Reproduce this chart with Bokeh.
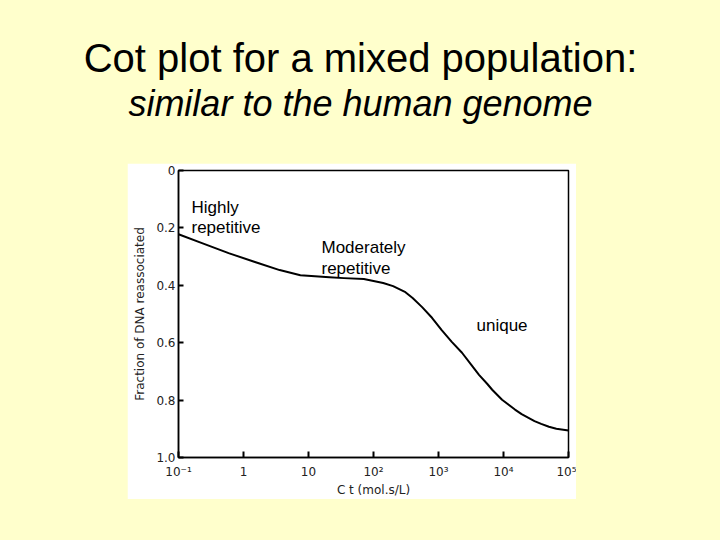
from bokeh.plotting import figure
from bokeh.models import Range1d, FixedTicker, Label, Spacer
from bokeh.layouts import column, row
from bokeh.core.properties import value
from bokeh.embed import file_html
from bokeh.resources import INLINE

# Data (Cot curve)
ct = [0.1, 0.23, 0.59, 1.5, 3.6, 7.5, 21, 35, 71, 141, 200, 310, 400, 560, 800, 1120,
      1600, 2300, 3200, 4200, 5600, 6700, 9500, 15000, 19000, 30000, 38000, 50000, 65000, 100000]
frac = [0.222, 0.253, 0.288, 0.319, 0.347, 0.365, 0.372, 0.375, 0.378, 0.392, 0.403, 0.424, 0.444,
        0.476, 0.514, 0.556, 0.597, 0.635, 0.677, 0.712, 0.743, 0.764, 0.799, 0.833, 0.849, 0.873,
        0.883, 0.893, 0.900, 0.906]

x_ticks = [0.1, 1, 10, 100, 1000, 10000, 100000]
x_tick_labels = ["10⁻¹", "1", "10", "10²", "10³", "10⁴", "10⁵"]
y_ticks = [0, 0.2, 0.4, 0.6, 0.8, 1.0]
y_tick_labels = ["0", "0.2", "0.4", "0.6", "0.8", "1.0"]

title_text = "Cot plot for a mixed population:"
subtitle_text = "similar to the human genome"
region_labels = [("Highly", 64, 44), ("repetitive", 64, 64),
                 ("Moderately", 194, 84), ("repetitive", 194, 105),
                 ("unique", 349, 162)]

BG = "#FFFFCC"

# ---- title panel ----
t = figure(width=720, height=163, x_range=Range1d(0, 720), y_range=Range1d(163, 0),
           output_backend="svg", toolbar_location=None,
           x_axis_location=None, y_axis_location=None, min_border=0)
t.border_fill_color = BG
t.background_fill_color = BG
t.outline_line_color = None
t.grid.visible = False
t.text(x=[360], y=[57], text=[title_text], text_align="center", text_baseline="alphabetic",
       text_font=value("Liberation Sans"), text_font_size="40px", text_color="black")
t.text(x=[360], y=[103], text=[subtitle_text], text_align="center", text_baseline="alphabetic",
       text_font=value("Liberation Sans"), text_font_size="36px", text_font_style="italic",
       text_color="black")

# ---- chart ----
p = figure(width=449, height=335, x_axis_type="log",
           x_range=Range1d(0.1, 100000), y_range=Range1d(1.0, 0.0),
           output_backend="svg", toolbar_location=None,
           min_border_left=51, min_border_right=8,
           min_border_top=7, min_border_bottom=39)
p.border_fill_color = "white"
p.background_fill_color = "white"
p.outline_line_color = "black"
p.outline_line_width = 1.5
p.grid.visible = False

p.line(ct, frac, line_color="black", line_width=2, line_join="round")

for ax in (p.xaxis[0], p.yaxis[0]):
    ax.axis_line_color = "black"
    ax.axis_line_width = 1.5
    ax.major_tick_line_color = "black"
    ax.major_tick_line_width = 2
    ax.major_tick_out = 0
    ax.minor_tick_line_color = None
    ax.major_label_text_font = "DejaVu Sans"
    ax.major_label_text_font_size = "12px"
    ax.major_label_text_color = "#222222"
    ax.axis_label_text_font = "DejaVu Sans"
    ax.axis_label_text_font_size = "12px"
    ax.axis_label_text_font_style = "normal"
    ax.axis_label_text_color = "#222222"

p.xaxis.ticker = FixedTicker(ticks=x_ticks)
p.xaxis.major_label_overrides = {t_: l for t_, l in zip(x_ticks, x_tick_labels)}
p.xaxis.major_tick_in = 6
p.xaxis.major_label_standoff = 7
p.xaxis.axis_label = "C t (mol.s/L)"
p.xaxis.axis_label_standoff = 1

p.yaxis.ticker = FixedTicker(ticks=y_ticks)
p.yaxis.major_label_overrides = {t_: l for t_, l in zip(y_ticks, y_tick_labels)}
p.yaxis.major_tick_in = 5
p.yaxis.major_label_standoff = 3
p.yaxis.axis_label = "Fraction of DNA reassociated"
p.yaxis.axis_label_standoff = 6

for txt, lx, ly in region_labels:
    p.add_layout(Label(x=lx, y=ly, x_units="canvas", y_units="canvas", text=txt,
                       text_align="left", text_baseline="alphabetic",
                       text_font="Liberation Sans", text_font_size="17px", text_color="black"))

layout = column(t, row(Spacer(width=127, height=336), p))
p.height = 336

html = file_html(layout, INLINE)
html = html.replace("</head>", "<style>html,body{background:#FFFFCC;}</style></head>", 1)
open("out.html", "w").write(html)
